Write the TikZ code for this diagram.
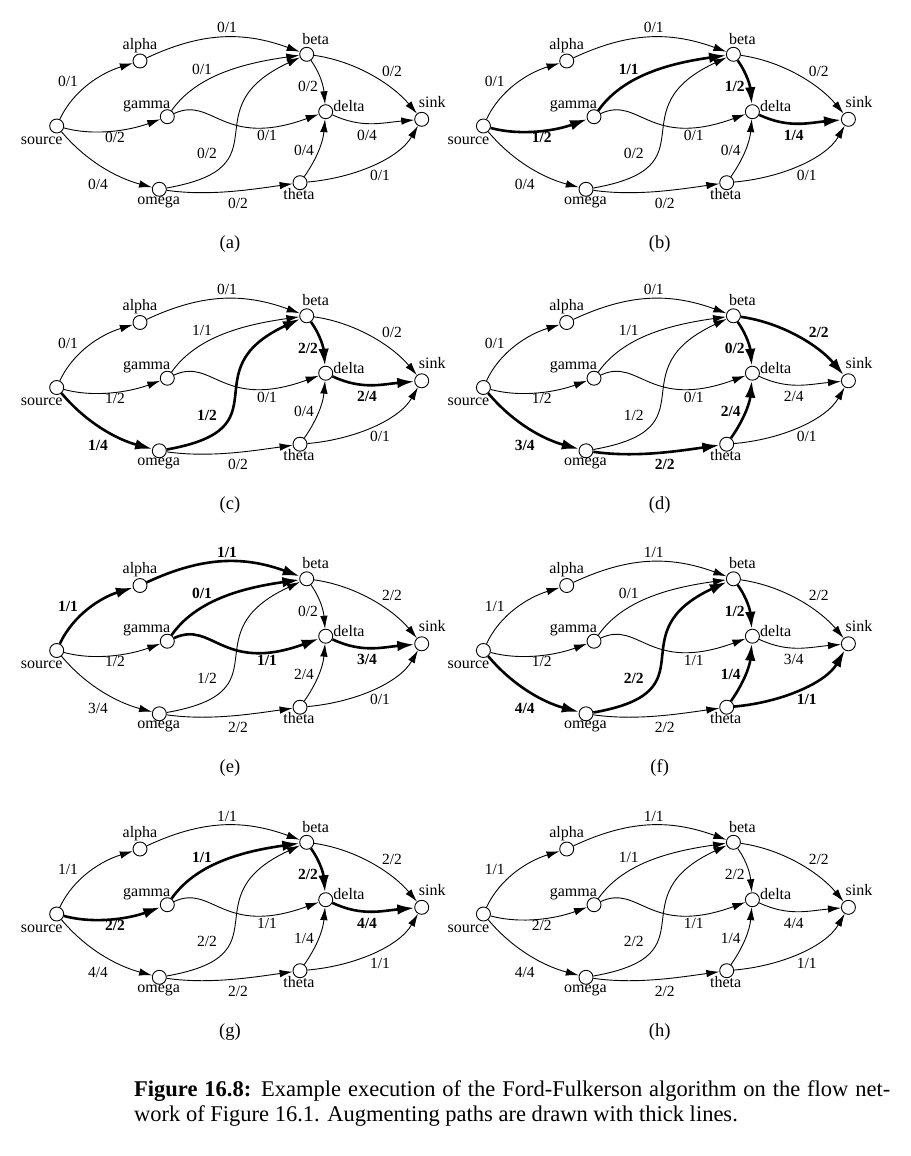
\documentclass[tikz,border=0pt]{standalone}
\usepackage{fontspec}
\setmainfont{Liberation Serif}
\usetikzlibrary{arrows.meta}
\pgfkeys{/lab/.is family,
  /lab/sa/.store in=\Lsa, /lab/ab/.store in=\Lab, /lab/sg/.store in=\Lsg,
  /lab/gb/.store in=\Lgb, /lab/gd/.store in=\Lgd, /lab/ob/.store in=\Lob,
  /lab/bd/.store in=\Lbd, /lab/bt/.store in=\Lbt, /lab/dt/.store in=\Ldt,
  /lab/hd/.store in=\Lhd, /lab/ht/.store in=\Lht, /lab/so/.store in=\Lso,
  /lab/oh/.store in=\Loh}
\tikzset{
  vtx/.style={circle, draw, fill=white, line width=0.9pt, minimum size=14pt, inner sep=0pt},
  nlbl/.style={anchor=base, inner sep=0pt, font=\fontsize{16}{18}\selectfont},
  thn/.style={line width=0.9pt, -{Latex[length=13pt,width=7.5pt]}},
  thk/.style={line width=2.6pt, -{Latex[length=17pt,width=10.5pt]}},
  nl/.style={anchor=base, inner sep=0pt, font=\fontsize{15.5}{18}\selectfont},
  bl/.style={anchor=base, inner sep=0pt, font=\fontsize{15.5}{18}\selectfont\bfseries},
  panelcap/.style={anchor=base, inner sep=0pt, font=\fontsize{18.5}{22}\selectfont},
  figcap/.style={anchor=base west, inner sep=0pt, font=\fontsize{22.5}{25}\selectfont},
  resetnet/.style={e-sa/.style=thn, l-sa/.style=nl, e-ab/.style=thn, l-ab/.style=nl,
    e-sg/.style=thn, l-sg/.style=nl, e-gb/.style=thn, l-gb/.style=nl,
    e-gd/.style=thn, l-gd/.style=nl, e-ob/.style=thn, l-ob/.style=nl,
    e-bd/.style=thn, l-bd/.style=nl, e-bt/.style=thn, l-bt/.style=nl,
    e-dt/.style=thn, l-dt/.style=nl, e-hd/.style=thn, l-hd/.style=nl,
    e-ht/.style=thn, l-ht/.style=nl, e-so/.style=thn, l-so/.style=nl,
    e-oh/.style=thn, l-oh/.style=nl},
  aug/.style={e-#1/.style=thk, l-#1/.style=bl}
}
\newcommand\drawnet[3]{%
  \node[vtx] (#1-s) at (56.7,-126) {};
  \node[vtx] (#1-a) at (140,-61) {};
  \node[vtx] (#1-b) at (306.7,-54.3) {};
  \node[vtx] (#1-g) at (167.3,-116.7) {};
  \node[vtx] (#1-d) at (325.7,-111.7) {};
  \node[vtx] (#1-t) at (421.7,-119.3) {};
  \node[vtx] (#1-o) at (159.3,-189.3) {};
  \node[vtx] (#1-h) at (300,-182.7) {};
  \node[nlbl] (#1-sl) at (41.7,-144) {source};
  \node[nlbl] (#1-al) at (140,-49.3) {alpha};
  \node[nlbl] (#1-bl) at (315.7,-44.3) {beta};
  \node[nlbl] (#1-gl) at (146.7,-108.3) {gamma};
  \node[nlbl] (#1-dl) at (349,-111.7) {delta};
  \node[nlbl] (#1-tl) at (432.3,-107.3) {sink};
  \node[nlbl] (#1-ol) at (158.7,-204) {omega};
  \node[nlbl] (#1-hl) at (299,-199.3) {theta};
  \draw[e-sa] (#1-s) .. controls +(65:40) and +(197:40) .. (#1-a);
  \draw[e-ab] (#1-a) .. controls +(25:68) and +(160:68) .. (#1-b);
  \draw[e-sg] (#1-s) .. controls +(-15:40) and +(200:40) .. (#1-g);
  \draw[e-gb] (#1-g) .. controls +(55:50) and +(188:65) .. (#1-b);
  \draw[e-gd] (#1-g) .. controls +(25:50) and +(200:110) .. (#1-d);
  \draw[e-ob] (#1-o) .. controls +(10:130) and +(205:130) .. (#1-b);
  \draw[e-bd] (#1-b) .. controls +(-55:25) and +(95:25) .. (#1-d);
  \draw[e-bt] (#1-b) .. controls +(-8:50) and +(130:45) .. (#1-t);
  \draw[e-dt] (#1-d) .. controls +(-25:40) and +(185:40) .. (#1-t);
  \draw[e-hd] (#1-h) .. controls +(55:30) and +(-95:30) .. (#1-d);
  \draw[e-ht] (#1-h) .. controls +(5:55) and +(-120:45) .. (#1-t);
  \draw[e-so] (#1-s) .. controls +(-50:45) and +(165:45) .. (#1-o);
  \draw[e-oh] (#1-o) .. controls +(-8:50) and +(188:50) .. (#1-h);
  \node[l-sa] (#1-lsa) at (68,-86.5) {\Lsa};
  \node[l-ab] (#1-lab) at (227,-33) {\Lab};
  \node[l-gb] (#1-lgb) at (202,-74.3) {\Lgb};
  \node[l-sg] (#1-lsg) at (115,-142.3) {\Lsg};
  \node[l-gd] (#1-lgd) at (267,-140.7) {\Lgd};
  \node[l-ob] (#1-lob) at (207,-158.7) {\Lob};
  \node[l-bd] (#1-lbd) at (308,-91.7) {\Lbd};
  \node[l-bt] (#1-lbt) at (392,-76) {\Lbt};
  \node[l-dt] (#1-ldt) at (367,-140) {\Ldt};
  \node[l-hd] (#1-lhd) at (304,-155) {\Lhd};
  \node[l-so] (#1-lso) at (98,-189.3) {\Lso};
  \node[l-oh] (#1-loh) at (238,-208.3) {\Loh};
  \node[l-ht] (#1-lht) at (380,-180) {\Lht};
  \node[panelcap] (#1-cap) at (#3,-248) {#2};
}
\begin{document}
\begin{tikzpicture}[x=1pt,y=1pt]
\fill[white] (0,0) rectangle (910,-1156);
\useasboundingbox (0,0) rectangle (910,-1156);
% (a)
\begin{scope}[shift={(0,0)},resetnet]
\pgfkeys{/lab/.cd,sa=0/1,ab=0/1,sg=0/2,gb=0/1,gd=0/1,ob=0/2,bd=0/2,bt=0/2,dt=0/4,hd=0/4,ht=0/1,so=0/4,oh=0/2}
\drawnet{pa}{(a)}{230}
\end{scope}
% (b)
\begin{scope}[shift={(426.7,0)},resetnet,aug=sg,aug=gb,aug=bd,aug=dt]
\pgfkeys{/lab/.cd,sa=0/1,ab=0/1,sg=1/2,gb=1/1,gd=0/1,ob=0/2,bd=1/2,bt=0/2,dt=1/4,hd=0/4,ht=0/1,so=0/4,oh=0/2}
\drawnet{pb}{(b)}{233}
\end{scope}
% (c)
\begin{scope}[shift={(0,-261.5)},resetnet,aug=so,aug=ob,aug=bd,aug=dt]
\pgfkeys{/lab/.cd,sa=0/1,ab=0/1,sg=1/2,gb=1/1,gd=0/1,ob=1/2,bd=2/2,bt=0/2,dt=2/4,hd=0/4,ht=0/1,so=1/4,oh=0/2}
\drawnet{pc}{(c)}{230}
\end{scope}
% (d)
\begin{scope}[shift={(426.7,-261.5)},resetnet,aug=so,aug=oh,aug=hd,aug=bd,aug=bt]
\pgfkeys{/lab/.cd,sa=0/1,ab=0/1,sg=1/2,gb=1/1,gd=0/1,ob=1/2,bd=0/2,bt=2/2,dt=2/4,hd=2/4,ht=0/1,so=3/4,oh=2/2}
\drawnet{pd}{(d)}{233}
\end{scope}
% (e)
\begin{scope}[shift={(0,-524.5)},resetnet,aug=sa,aug=ab,aug=gb,aug=gd,aug=dt]
\pgfkeys{/lab/.cd,sa=1/1,ab=1/1,sg=1/2,gb=0/1,gd=1/1,ob=1/2,bd=0/2,bt=2/2,dt=3/4,hd=2/4,ht=0/1,so=3/4,oh=2/2}
\drawnet{pe}{(e)}{230}
\end{scope}
% (f)
\begin{scope}[shift={(426.7,-524.5)},resetnet,aug=so,aug=ob,aug=bd,aug=hd,aug=ht]
\pgfkeys{/lab/.cd,sa=1/1,ab=1/1,sg=1/2,gb=0/1,gd=1/1,ob=2/2,bd=1/2,bt=2/2,dt=3/4,hd=1/4,ht=1/1,so=4/4,oh=2/2}
\drawnet{pf}{(f)}{233}
\end{scope}
% (g)
\begin{scope}[shift={(0,-788)},resetnet,aug=sg,aug=gb,aug=bd,aug=dt]
\pgfkeys{/lab/.cd,sa=1/1,ab=1/1,sg=2/2,gb=1/1,gd=1/1,ob=2/2,bd=2/2,bt=2/2,dt=4/4,hd=1/4,ht=1/1,so=4/4,oh=2/2}
\drawnet{pg}{(g)}{230}
\end{scope}
% (h)
\begin{scope}[shift={(426.7,-788)},resetnet]
\pgfkeys{/lab/.cd,sa=1/1,ab=1/1,sg=2/2,gb=1/1,gd=1/1,ob=2/2,bd=2/2,bt=2/2,dt=4/4,hd=1/4,ht=1/1,so=4/4,oh=2/2}
\drawnet{ph}{(h)}{233}
\end{scope}
\node[figcap] (fig1) at (134,-1096) {\makebox[756pt][s]{\textbf{Figure 16.8:} Example execution of the Ford-Fulkerson algorithm on the flow net-}};
\node[figcap] (fig2) at (134,-1121) {work of Figure 16.1. Augmenting paths are drawn with thick lines.};
\end{tikzpicture}
\end{document}
